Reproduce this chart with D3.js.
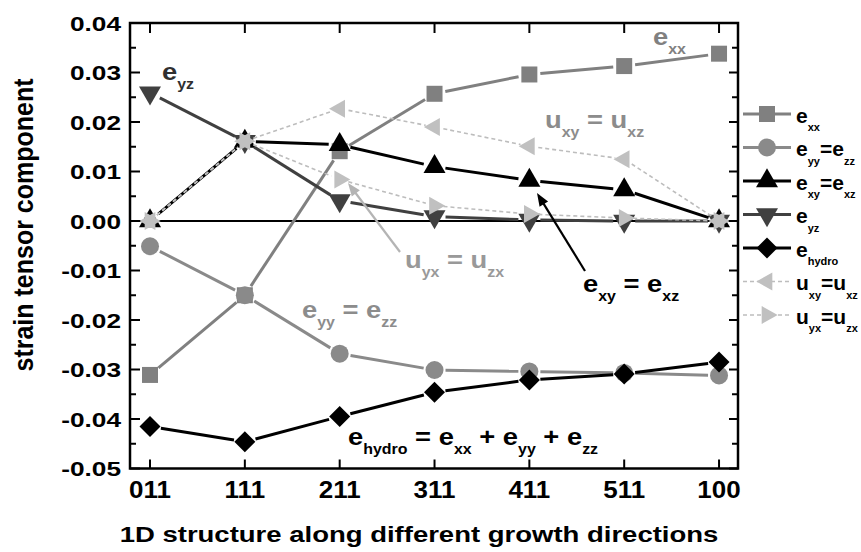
<!DOCTYPE html>
<html>
<head>
<meta charset="utf-8">
<script src="https://cdn.jsdelivr.net/npm/d3@7"></script>
<style>
  html, body { margin: 0; padding: 0; background: #fff; }
  svg { display: block; }
  text { font-family: "Liberation Sans", Arial, sans-serif; font-weight: bold; }
</style>
</head>
<body>
<svg id="chart" width="861" height="552"></svg>
<script>
// Growth directions of the 1D structures
const categories = ["011", "111", "211", "311", "411", "511", "100"];

// Strain tensor components for each growth direction
const exx    = [-0.0311, -0.0150,  0.0141,  0.0257,  0.0296,  0.0313,  0.0338];
const eyy    = [-0.0051, -0.0150, -0.0268, -0.0301, -0.0304, -0.0307, -0.0312];
const exy    = [ 0.0000,  0.0161,  0.0154,  0.0110,  0.0082,  0.0063,  0.0000];
const eyz    = [ 0.0259,  0.0161,  0.0041,  0.0009,  0.0002,  0.0000,  0.0000];
const ehydro = [-0.0415, -0.0446, -0.0395, -0.0346, -0.0321, -0.0309, -0.0285];
const uxy    = [ 0.0000,  0.0161,  0.0227,  0.0190,  0.0151,  0.0125,  0.0000];
const uyx    = [ 0.0000,  0.0161,  0.0084,  0.0031,  0.0014,  0.0006,  0.0000];

// Axis ticks
const yMajorTicks = [0.04, 0.03, 0.02, 0.01, 0.00, -0.01, -0.02, -0.03, -0.04, -0.05];
const yTickLabels = ["0.04", "0.03", "0.02", "0.01", "0.00", "-0.01", "-0.02", "-0.03", "-0.04", "-0.05"];
const yMinorTicks = [0.035, 0.025, 0.015, 0.005, -0.005, -0.015, -0.025, -0.035, -0.045];

const svg = d3.select("#chart");

const plot = { left: 130, right: 738, top: 23, bottom: 468.5 };

const x = d3.scaleLinear().domain([-0.211, 6.2]).range([plot.left, plot.right]);
const y = d3.scaleLinear().domain([-0.05, 0.04]).range([plot.bottom, plot.top]);

// ---------- text helpers ----------
// parts: [[string, "main"|"sub"], ...]; sx widens the glyphs horizontally
function richText(parent, px, py, parts, opt) {
  const sx = opt.sx || 1;
  const shift = opt.shift != null ? opt.shift : 0.4;
  const g = parent.append("g")
    .attr("transform", `translate(${px},${py}) scale(${sx},1)`);
  const t = g.append("text")
    .attr("x", 0).attr("y", 0)
    .attr("fill", opt.color || "#000")
    .attr("text-anchor", opt.anchor || "start")
    .attr("font-size", opt.size);
  let sub = false;
  parts.forEach(p => {
    const isSub = p[1] === "sub";
    const ts = t.append("tspan").text(p[0]);
    if (isSub) {
      ts.attr("font-size", opt.sub);
      if (!sub) ts.attr("dy", opt.size * shift);
    } else if (sub) {
      ts.attr("dy", -opt.size * shift);
    }
    sub = isSub;
  });
  return t;
}
function plainText(parent, px, py, str, opt) {
  return richText(parent, px, py, [[str, "main"]], opt);
}
function verticalText(parent, px, py, str, opt) {
  const g = parent.append("g")
    .attr("transform", `translate(${px},${py}) scale(${opt.sx || 1},1) rotate(-90)`);
  g.append("text").attr("text-anchor", "middle").attr("font-size", opt.size)
    .attr("fill", "#000").text(str);
}

// ---------- marker shapes ----------
const shapes = {
  square:   () => { const h = 8; return `M${-h},${-h}H${h}V${h}H${-h}Z`; },
  circle:   () => { const r = 9; return `M${r},0A${r},${r} 0 1 1 ${-r},0A${r},${r} 0 1 1 ${r},0Z`; },
  triUp:    () => { const w = 22, h = 19; return `M0,${-2*h/3}L${w/2},${h/3}L${-w/2},${h/3}Z`; },
  triDown:  () => { const w = 22, h = 19; return `M0,${2*h/3}L${w/2},${-h/3}L${-w/2},${-h/3}Z`; },
  diamond:  () => { const r = 10.5; return `M0,${-r}L${r},0L0,${r}L${-r},0Z`; },
  triLeft:  () => { const w = 16, h = 18; return `M${-2*w/3},0L${w/3},${-h/2}L${w/3},${h/2}Z`; },
  triRight: () => { const w = 16, h = 18; return `M${2*w/3},0L${-w/3},${-h/2}L${-w/3},${h/2}Z`; }
};

const series = [
  { values: exx,    shape: "square",   fill: "#808080", stroke: "#808080", width: 3,   dash: null,  gap: 11,
    label: [["e", "main"], ["xx", "sub"]] },
  { values: eyy,    shape: "circle",   fill: "#8a8a8a", stroke: "#8a8a8a", width: 3,   dash: null,  gap: 11,
    label: [["e", "main"], ["yy", "sub"], ["=e", "main"], ["zz", "sub"]] },
  { values: exy,    shape: "triUp",    fill: "#000000", stroke: "#000000", width: 3,   dash: null,  gap: 11,
    label: [["e", "main"], ["xy", "sub"], ["=e", "main"], ["xz", "sub"]] },
  { values: eyz,    shape: "triDown",  fill: "#404040", stroke: "#404040", width: 3,   dash: null,  gap: 11,
    label: [["e", "main"], ["yz", "sub"]] },
  { values: ehydro, shape: "diamond",  fill: "#000000", stroke: "#000000", width: 3,   dash: null,  gap: 11,
    label: [["e", "main"], ["hydro", "sub"]] },
  { values: uxy,    shape: "triLeft",  fill: "#c0c0c0", stroke: "#bdbdbd", width: 1.6, dash: "4,3", gap: 9,
    label: [["u", "main"], ["xy", "sub"], ["=u", "main"], ["xz", "sub"]] },
  { values: uyx,    shape: "triRight", fill: "#c0c0c0", stroke: "#bdbdbd", width: 1.6, dash: "4,3", gap: 9,
    label: [["u", "main"], ["yx", "sub"], ["=u", "main"], ["zx", "sub"]] }
];

// ---------- zero line ----------
svg.append("line")
  .attr("x1", plot.left).attr("x2", plot.right)
  .attr("y1", y(0)).attr("y2", y(0))
  .attr("stroke", "#000").attr("stroke-width", 2);

// ---------- series: line segments (with gaps at the symbols) then symbols ----------
series.forEach(s => {
  const pts = s.values.map((v, i) => [x(i), y(v)]);
  const g = svg.append("g");
  for (let i = 0; i < pts.length - 1; i++) {
    const [x1, y1] = pts[i], [x2, y2] = pts[i + 1];
    const len = Math.hypot(x2 - x1, y2 - y1);
    if (len <= 2 * s.gap) continue;
    const ux = (x2 - x1) / len, uy = (y2 - y1) / len;
    g.append("line")
      .attr("x1", x1 + ux * s.gap).attr("y1", y1 + uy * s.gap)
      .attr("x2", x2 - ux * s.gap).attr("y2", y2 - uy * s.gap)
      .attr("stroke", s.stroke).attr("stroke-width", s.width)
      .attr("stroke-dasharray", s.dash);
  }
  g.selectAll("path.sym").data(s.values).join("path")
    .attr("class", "sym")
    .attr("transform", (v, i) => `translate(${x(i)},${y(v)})`)
    .attr("d", shapes[s.shape]())
    .attr("fill", s.fill);
});

// ---------- frame ----------
svg.append("rect")
  .attr("x", plot.left).attr("y", plot.top)
  .attr("width", plot.right - plot.left).attr("height", plot.bottom - plot.top)
  .attr("fill", "none").attr("stroke", "#000").attr("stroke-width", 2.5);

// ---------- ticks ----------
const tickG = svg.append("g").attr("stroke", "#000").attr("stroke-width", 2);
yMajorTicks.forEach(v => {
  tickG.append("line").attr("x1", plot.left).attr("x2", plot.left + 10).attr("y1", y(v)).attr("y2", y(v));
  tickG.append("line").attr("x1", plot.right).attr("x2", plot.right - 9).attr("y1", y(v)).attr("y2", y(v));
});
yMinorTicks.forEach(v => {
  tickG.append("line").attr("x1", plot.left).attr("x2", plot.left + 6).attr("y1", y(v)).attr("y2", y(v));
  tickG.append("line").attr("x1", plot.right).attr("x2", plot.right - 6).attr("y1", y(v)).attr("y2", y(v));
});
categories.forEach((c, i) => {
  tickG.append("line").attr("x1", x(i)).attr("x2", x(i)).attr("y1", plot.top).attr("y2", plot.top + 10);
  tickG.append("line").attr("x1", x(i)).attr("x2", x(i)).attr("y1", plot.bottom).attr("y2", plot.bottom - 9);
});

// ---------- tick labels ----------
yMajorTicks.forEach((v, i) => {
  plainText(svg, 121, y(v) + 7.5, yTickLabels[i], { size: 21, sx: 1.25, anchor: "end" });
});
categories.forEach((c, i) => {
  plainText(svg, x(i), 498, c, { size: 23, sx: 1.13, anchor: "middle" });
});

// ---------- axis titles ----------
plainText(svg, 419, 542, "1D structure along different growth directions", { size: 22, sx: 1.25, anchor: "middle" });
verticalText(svg, 33, 225, "strain tensor component", { size: 25, sx: 1.1 });

// ---------- legend ----------
const legendG = svg.append("g");
series.forEach((s, i) => {
  const ly = 114 + i * 33.5;
  legendG.append("line")
    .attr("x1", 743).attr("x2", 791).attr("y1", ly).attr("y2", ly)
    .attr("stroke", s.stroke).attr("stroke-width", s.width).attr("stroke-dasharray", s.dash);
  legendG.append("path")
    .attr("transform", `translate(767,${ly})`)
    .attr("d", shapes[s.shape]()).attr("fill", s.fill);
  richText(legendG, 796, ly + 8.5, s.label, { size: 21, sub: 11, sx: 1, shift: 0.42, color: "#000" });
});

// ---------- annotations ----------
const ann = { size: 24, sub: 14, sx: 1.14, shift: 0.38 };
richText(svg, 162, 80, [["e", "main"], ["yz", "sub"]], { ...ann, color: "#303030" });
richText(svg, 653, 45, [["e", "main"], ["xx", "sub"]], { ...ann, color: "#808080" });
richText(svg, 545, 128, [["u", "main"], ["xy", "sub"], [" = u", "main"], ["xz", "sub"]], { ...ann, color: "#8c8c8c" });
richText(svg, 405, 268, [["u", "main"], ["yx", "sub"], [" = u", "main"], ["zx", "sub"]], { ...ann, color: "#999999" });
richText(svg, 302, 318, [["e", "main"], ["yy", "sub"], [" = e", "main"], ["zz", "sub"]], { ...ann, color: "#8c8c8c" });
richText(svg, 583, 292, [["e", "main"], ["xy", "sub"], [" = e", "main"], ["xz", "sub"]], { ...ann, color: "#000" });
richText(svg, 348, 445, [["e", "main"], ["hydro", "sub"], [" = e", "main"], ["xx", "sub"],
  [" + e", "main"], ["yy", "sub"], [" + e", "main"], ["zz", "sub"]], { ...ann, color: "#000" });

// ---------- arrows ----------
function arrow(x1, y1, x2, y2, color) {
  const len = Math.hypot(x2 - x1, y2 - y1);
  const ux = (x2 - x1) / len, uy = (y2 - y1) / len;
  const hl = 13, hw = 5;
  const bx = x2 - ux * hl, by = y2 - uy * hl;
  svg.append("line").attr("x1", x1).attr("y1", y1).attr("x2", bx + ux * 2).attr("y2", by + uy * 2)
    .attr("stroke", color).attr("stroke-width", 2.2);
  svg.append("path")
    .attr("d", `M${x2},${y2}L${bx - uy * hw},${by + ux * hw}L${bx + uy * hw},${by - ux * hw}Z`)
    .attr("fill", color);
}
arrow(400, 252, 348, 183, "#b4b4b4");
arrow(585, 271, 537, 193, "#000");
</script>
</body>
</html>
